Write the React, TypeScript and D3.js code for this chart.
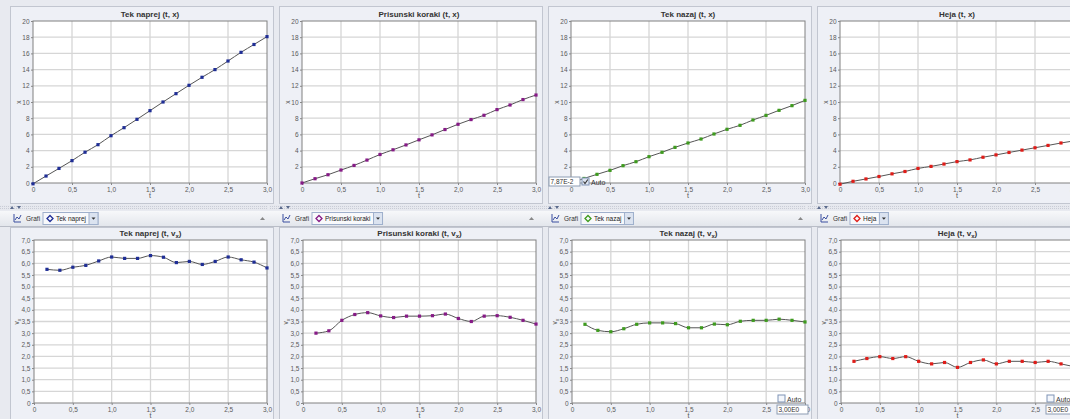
import React, { useEffect, useRef } from 'react';
import * as d3 from 'd3';

// sample times
const tValues = [0, 0.167, 0.333, 0.5, 0.667, 0.833, 1.0, 1.167, 1.333, 1.5, 1.667, 1.833, 2.0, 2.167, 2.333, 2.5, 2.667, 2.833, 3.0];
const vtValues = [0.167, 0.333, 0.5, 0.667, 0.833, 1.0, 1.167, 1.333, 1.5, 1.667, 1.833, 2.0, 2.167, 2.333, 2.5, 2.667, 2.833, 3.0];

const seriesNames = ['Tek naprej', 'Prisunski koraki', 'Tek nazaj', 'Heja'];
const seriesColors = ['#1f2e96', '#861a86', '#3e9b1e', '#e01c18'];

// position x(t)
const naprejX = [-0.1, 0.86, 1.8, 2.76, 3.8, 4.73, 5.84, 6.83, 7.86, 8.93, 10.0, 11.03, 12.06, 13.05, 14.0, 15.06, 16.13, 17.1, 18.07];
const prisunskiX = [0, 0.53, 1.02, 1.6, 2.17, 2.83, 3.52, 4.1, 4.7, 5.33, 5.94, 6.6, 7.25, 7.83, 8.36, 9.06, 9.63, 10.3, 10.86];
const nazajX = [0, 0.56, 1.07, 1.56, 2.14, 2.63, 3.25, 3.79, 4.4, 4.94, 5.43, 6.05, 6.63, 7.12, 7.78, 8.35, 8.97, 9.55, 10.2];
const hejaX = [-0.15, 0.21, 0.5, 0.8, 1.13, 1.42, 1.8, 2.05, 2.34, 2.64, 2.85, 3.18, 3.47, 3.77, 4.06, 4.35, 4.64, 4.94, 5.2];

// velocity v_x(t)
const naprejV = [5.74, 5.7, 5.83, 5.91, 6.1, 6.27, 6.21, 6.21, 6.33, 6.26, 6.03, 6.08, 5.95, 6.08, 6.27, 6.15, 6.05, 5.8];
const prisunskiV = [3.0, 3.1, 3.55, 3.8, 3.88, 3.74, 3.67, 3.73, 3.73, 3.75, 3.82, 3.63, 3.5, 3.73, 3.75, 3.68, 3.55, 3.39];
const nazajV = [3.38, 3.12, 3.06, 3.19, 3.38, 3.44, 3.44, 3.41, 3.23, 3.23, 3.39, 3.36, 3.51, 3.55, 3.55, 3.6, 3.55, 3.48];
const hejaV = [1.79, 1.91, 1.99, 1.91, 1.99, 1.79, 1.68, 1.74, 1.53, 1.74, 1.85, 1.68, 1.79, 1.79, 1.74, 1.79, 1.68, 1.56];

const xTicks = [0, 0.5, 1.0, 1.5, 2.0, 2.5, 3.0];
const posTicks = [0, 2, 4, 6, 8, 10, 12, 14, 16, 18, 20];
const velTicks = [0, 0.5, 1.0, 1.5, 2.0, 2.5, 3.0, 3.5, 4.0, 4.5, 5.0, 5.5, 6.0, 6.5, 7.0];

const posData = [naprejX, prisunskiX, nazajX, hejaX];
const velData = [naprejV, prisunskiV, nazajV, hejaV];

const W = 1070;
const H = 419;
const COL = 269;
const FONT = '"Liberation Sans", Arial, sans-serif';

const fmtDec = (d) => (d === 0 ? '0' : d3.format('.1f')(d).replace('.', ','));
const fmtInt = (d) => String(d);

function drawPlot(svg, o) {
  const xs = d3.scaleLinear().domain([0, 3]).range([o.x0, o.x0 + o.w]);
  const ys = d3.scaleLinear().domain(o.yDomain).range([o.y0 + o.h, o.y0]);

  svg.append('rect').attr('x', o.x0).attr('y', o.y0).attr('width', o.w).attr('height', o.h).attr('fill', '#fff');

  // grid
  const grid = svg.append('g').attr('stroke', '#d6d6d6').attr('stroke-width', 1.3);
  grid.selectAll('.gx').data(xTicks.slice(1, -1)).enter().append('line')
    .attr('x1', (d) => xs(d)).attr('x2', (d) => xs(d)).attr('y1', o.y0).attr('y2', o.y0 + o.h);
  grid.selectAll('.gy').data(o.yTicks.slice(1, -1)).enter().append('line')
    .attr('x1', o.x0).attr('x2', o.x0 + o.w).attr('y1', (d) => ys(d)).attr('y2', (d) => ys(d));

  svg.append('rect').attr('x', o.x0).attr('y', o.y0).attr('width', o.w).attr('height', o.h)
    .attr('fill', 'none').attr('stroke', '#808080').attr('stroke-width', 1);

  // axes
  const xAxis = svg.append('g').attr('transform', `translate(0, ${o.y0 + o.h})`)
    .call(d3.axisBottom(xs).tickValues(xTicks).tickSize(2).tickPadding(2).tickFormat(fmtDec));
  const yAxis = svg.append('g').attr('transform', `translate(${o.x0}, 0)`)
    .call(d3.axisLeft(ys).tickValues(o.hideZero ? o.yTicks.slice(1) : o.yTicks).tickSize(2).tickPadding(1.5).tickFormat(o.yFmt));
  [xAxis, yAxis].forEach((a) => {
    a.select('.domain').remove();
    a.selectAll('line').attr('stroke', '#888');
    a.selectAll('text').attr('fill', '#5a5a5a').style('font-size', '6.5px').style('font-family', FONT);
  });

  // series line and markers
  const pts = o.t.map((t, i) => [t, o.v[i]]);
  svg.append('path').datum(pts)
    .attr('d', d3.line().x((d) => xs(d[0])).y((d) => ys(d[1])).curve(d3.curveMonotoneX))
    .attr('fill', 'none').attr('stroke', '#555').attr('stroke-width', 1);
  svg.selectAll(null).data(pts).enter().append('rect')
    .attr('x', (d) => xs(d[0]) - 1.6).attr('y', (d) => ys(d[1]) - 1.6)
    .attr('width', 3.2).attr('height', 3.2).attr('fill', o.color);

  // title
  const title = svg.append('text').attr('x', o.x0 + o.w / 2).attr('y', o.y0 - 4)
    .attr('text-anchor', 'middle').attr('fill', '#333').style('font-size', '8px')
    .style('font-weight', 'bold').style('font-family', FONT);
  title.append('tspan').text(o.title);
  if (o.sub) {
    title.append('tspan').text('x').attr('dy', 2).style('font-size', '6px');
    title.append('tspan').text(')').attr('dy', -2);
  }

  // axis labels
  svg.append('text').attr('x', o.x0 + o.w / 2).attr('y', o.y0 + o.h + 15)
    .attr('text-anchor', 'middle').attr('fill', '#555').style('font-size', '7px').style('font-family', FONT).text('t');
  const yl = svg.append('text').attr('transform', `translate(${o.x0 - (o.sub ? 15.5 : 12.5)}, ${o.y0 + o.h / 2}) rotate(-90)`)
    .attr('text-anchor', 'middle').attr('fill', '#555').style('font-size', '6.5px').style('font-family', FONT);
  yl.append('tspan').text(o.sub ? 'v' : 'x');
  if (o.sub) yl.append('tspan').text('x').attr('dy', 2).style('font-size', '5px');
}

function drawAuto(svg, x, y, checked, value, boxFirst) {
  const g = svg.append('g').style('font-family', FONT);
  const box = (bx, by) => {
    g.append('rect').attr('x', bx).attr('y', by).attr('width', 31).attr('height', 9)
      .attr('fill', '#fff').attr('stroke', '#8c9bb2');
    g.append('text').attr('x', bx + 1.5).attr('y', by + 7).attr('fill', '#333').style('font-size', '6.5px').text(value);
  };
  const check = (cx, cy) => {
    g.append('rect').attr('x', cx).attr('y', cy).attr('width', 7).attr('height', 7)
      .attr('fill', checked ? '#dfe6f2' : '#f4f7fc').attr('stroke', '#7f93b5');
    if (checked) {
      g.append('path').attr('d', `M${cx + 1.5},${cy + 3.5} L${cx + 3},${cy + 5.5} L${cx + 5.8},${cy + 1.5}`)
        .attr('fill', 'none').attr('stroke', '#333').attr('stroke-width', 1.1);
    }
    g.append('text').attr('x', cx + 9).attr('y', cy + 6.5).attr('fill', '#333').style('font-size', '7px').text('Auto');
  };
  if (boxFirst) {
    box(x, y);
    check(x + 33, y + 1);
  } else {
    check(x + 1, y);
    box(x, y + 10);
  }
}

function drawToolbar(svg, off, i) {
  const y = 211;
  const g = svg.append('g').style('font-family', FONT);
  g.append('rect').attr('x', off).attr('y', y).attr('width', COL).attr('height', 15).attr('fill', 'url(#tb)');
  g.append('line').attr('x1', off).attr('x2', off + COL).attr('y1', y + 15.5).attr('y2', y + 15.5).attr('stroke', '#b9bdc7');
  // chart icon
  g.append('path').attr('d', `M${off + 14},${y + 3} V${y + 11} H${off + 21} M${off + 15},${y + 9} L${off + 17},${y + 6} L${off + 19},${y + 8} L${off + 21},${y + 4}`)
    .attr('fill', 'none').attr('stroke', '#3a4ea0').attr('stroke-width', 1);
  g.append('text').attr('x', off + 26).attr('y', y + 10).attr('fill', '#333').style('font-size', '6.5px').text('Grafi');
  // combo box
  const bx = off + 43;
  const combo = g.append('g');
  const rect = combo.append('rect').attr('x', bx).attr('y', y + 1.5).attr('height', 12).attr('fill', '#f8f9fb').attr('stroke', '#9fb0cc');
  combo.append('path').attr('d', `M${bx + 7},${y + 4.5} L${bx + 10},${y + 7.5} L${bx + 7},${y + 10.5} L${bx + 4},${y + 7.5} Z`)
    .attr('fill', 'none').attr('stroke', seriesColors[i]).attr('stroke-width', 1.3);
  const label = combo.append('text').attr('x', bx + 13).attr('y', y + 10).attr('fill', '#222').style('font-size', '6.5px').text(seriesNames[i]);
  const tw = (label.node() as SVGTextElement).getComputedTextLength();
  const dx = bx + 13 + tw + 3;
  rect.attr('width', dx + 9 - bx);
  combo.append('rect').attr('x', dx).attr('y', y + 1.5).attr('width', 9).attr('height', 12).attr('fill', '#dbe3f0').attr('stroke', '#9fb0cc');
  combo.append('path').attr('d', `M${dx + 2.5},${y + 6.5} H${dx + 6.5} L${dx + 4.5},${y + 8.8} Z`).attr('fill', '#333');
  if (i < 3) {
    g.append('path').attr('d', `M${off + 260},${y + 9} H${off + 265} L${off + 262.5},${y + 6} Z`).attr('fill', '#888');
  }
}

const App = () => {
  const ref = useRef(null);

  useEffect(() => {
    const svg = d3.select(ref.current);
    svg.selectAll('*').remove();

    const defs = svg.append('defs');
    const grad = defs.append('linearGradient').attr('id', 'tb').attr('x1', 0).attr('y1', 0).attr('x2', 0).attr('y2', 1);
    grad.append('stop').attr('offset', '0%').attr('stop-color', '#f7f8fa');
    grad.append('stop').attr('offset', '100%').attr('stop-color', '#e3e6ec');
    const pat = defs.append('pattern').attr('id', 'dots').attr('width', 2).attr('height', 2).attr('patternUnits', 'userSpaceOnUse');
    pat.append('rect').attr('width', 2).attr('height', 2).attr('fill', '#e6e8ee');
    pat.append('rect').attr('width', 1).attr('height', 1).attr('fill', '#c9ccd6');

    svg.append('rect').attr('width', W).attr('height', H).attr('fill', '#e8eaf0');

    for (let i = 0; i < 4; i++) {
      const off = i * COL;
      // panels
      svg.append('rect').attr('x', off + 10.5).attr('y', 6.5).attr('width', 263).attr('height', 197)
        .attr('fill', '#eef0f6').attr('stroke', '#c2c6d0');
      svg.append('rect').attr('x', off + 10.5).attr('y', 227.5).attr('width', 263).attr('height', 200)
        .attr('fill', '#eef0f6').attr('stroke', '#c2c6d0');
      // splitter
      svg.append('rect').attr('x', off).attr('y', 205).attr('width', COL - 1).attr('height', 5).attr('fill', 'url(#dots)');
      svg.append('path').attr('d', `M${off + 10},${209} L${off + 12},${206} L${off + 14},${209} Z M${off + 17},${206} L${off + 21},${206} L${off + 19},${209} Z`)
        .attr('fill', '#5a6a8c');

      drawPlot(svg, {
        x0: off + 33, y0: 21, w: 234, h: 162,
        yDomain: [0, 20], yTicks: posTicks, yFmt: fmtInt, hideZero: i === 1 || i === 2,
        t: tValues, v: posData[i], color: seriesColors[i],
        title: `${seriesNames[i]} (t, x)`, sub: false,
      });

      drawToolbar(svg, off, i);

      drawPlot(svg, {
        x0: off + 34, y0: 240, w: 233, h: 163,
        yDomain: [0, 7], yTicks: velTicks, yFmt: fmtDec, hideZero: false,
        t: vtValues, v: velData[i], color: seriesColors[i],
        title: `${seriesNames[i]} (t, v`, sub: true,
      });
    }

    drawAuto(svg, 549, 177, true, '7,87E-2', true);
    drawAuto(svg, 777, 395, false, '3,00E0', false);
    drawAuto(svg, 1046, 395, false, '3,00E0', false);
  }, []);

  return (
    <div style={{ position: 'absolute', left: 0, top: 0, width: W, height: H, overflow: 'hidden' }}>
      <svg ref={ref} width={W} height={H} style={{ display: 'block' }} />
    </div>
  );
};

export default App;
